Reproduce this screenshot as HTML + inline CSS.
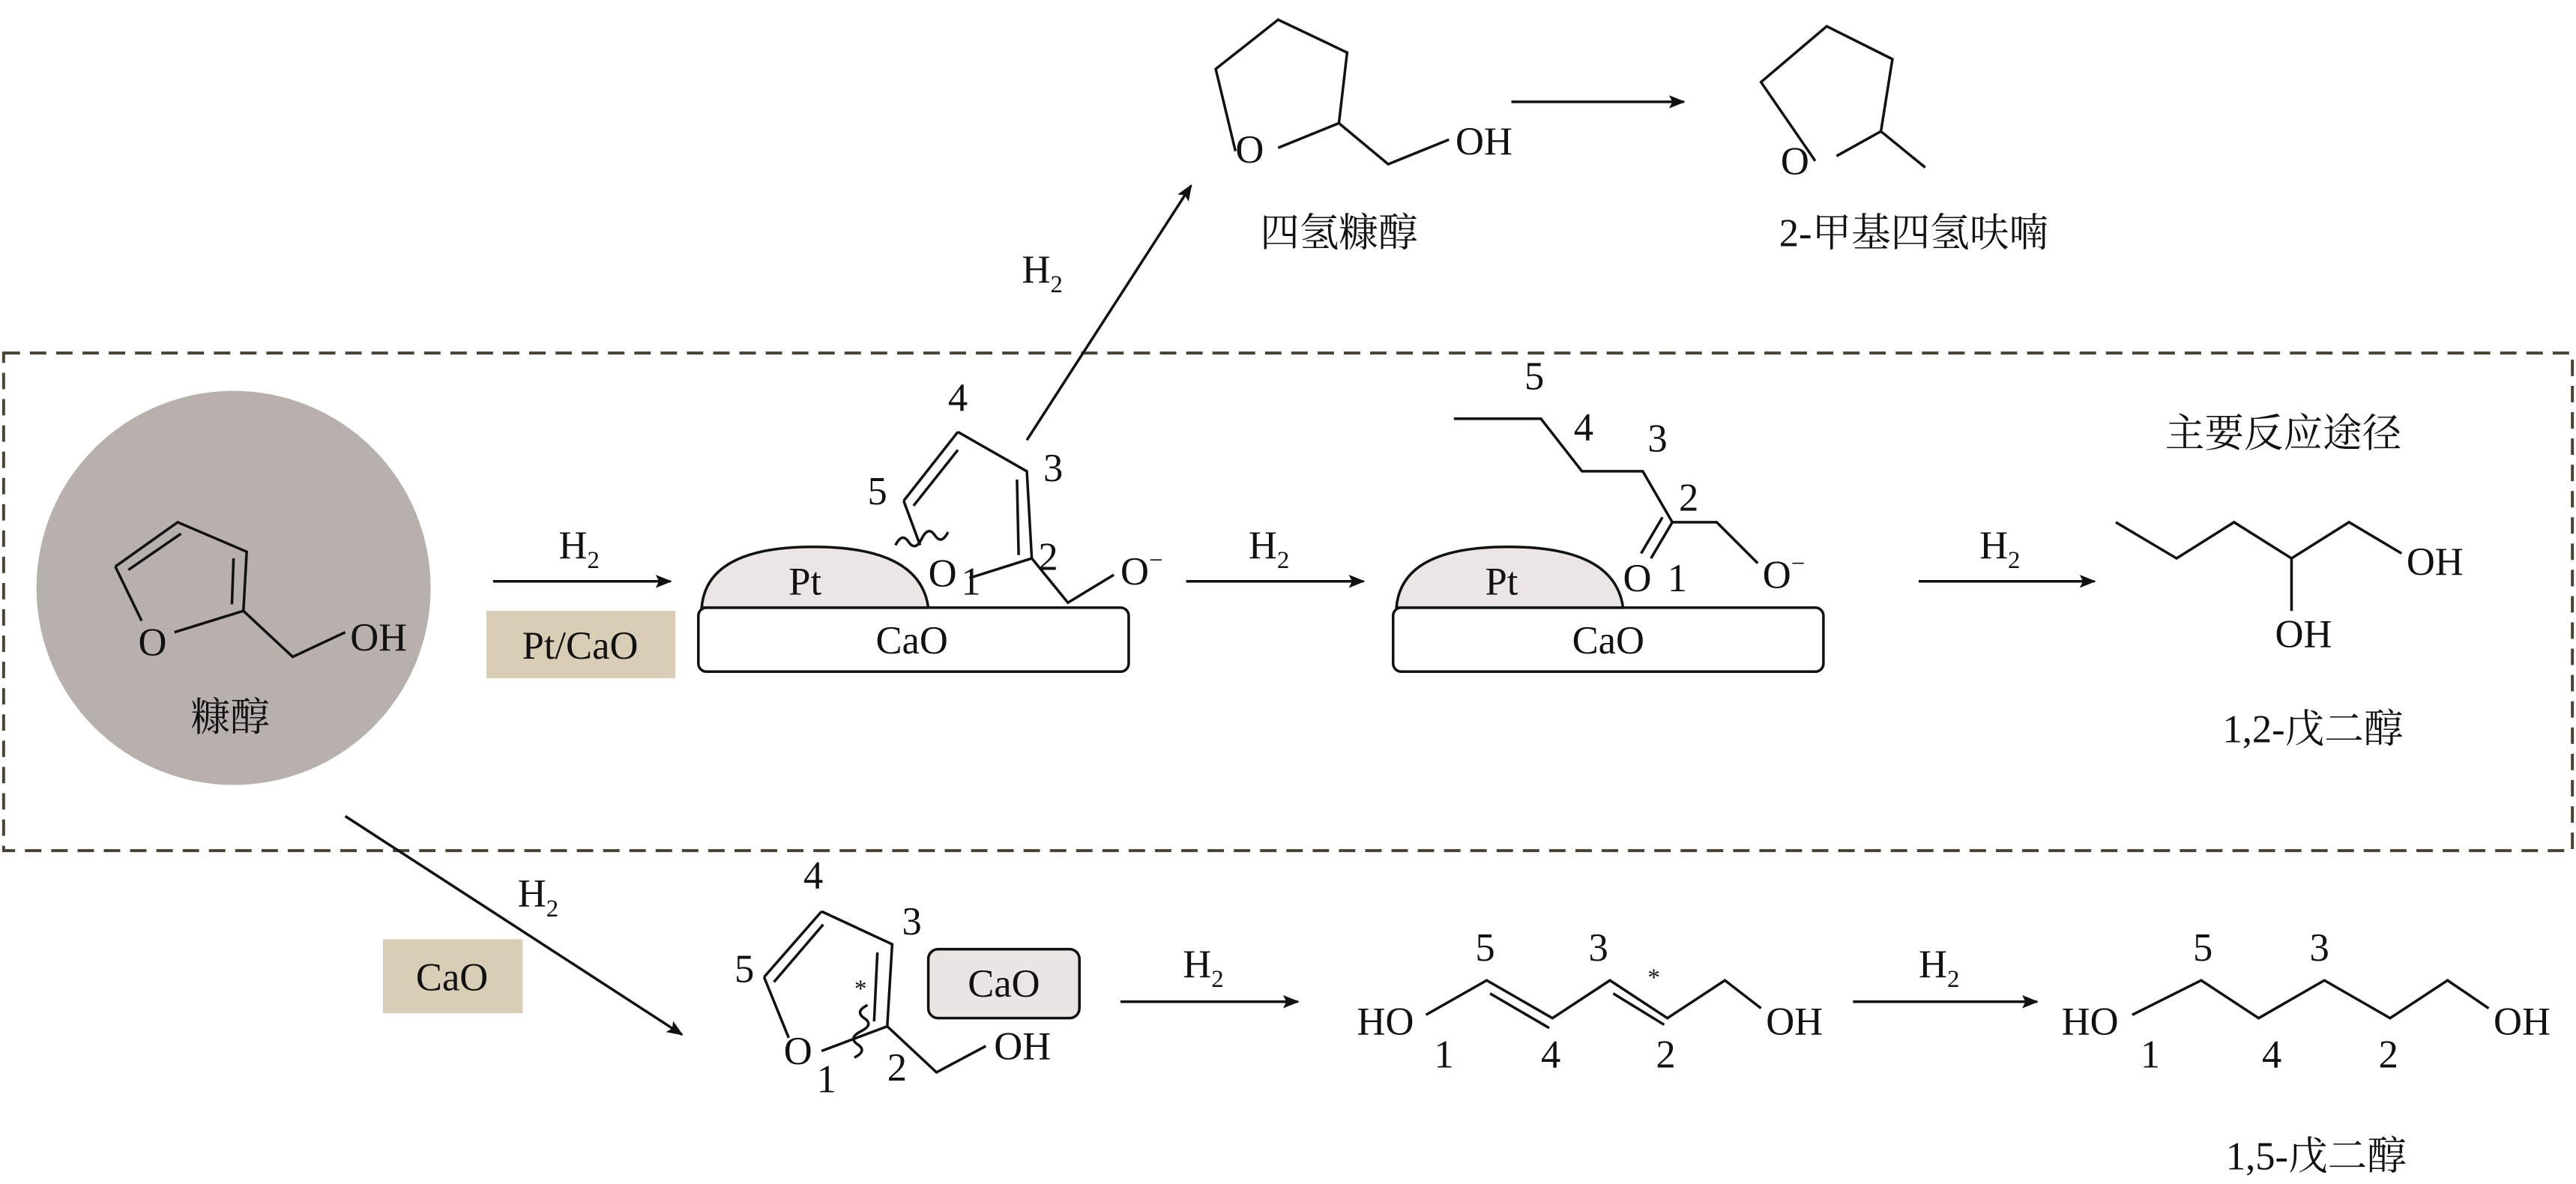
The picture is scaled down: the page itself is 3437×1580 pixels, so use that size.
<!DOCTYPE html>
<html><head><meta charset="utf-8"><style>
html,body{margin:0;padding:0;background:#fff}
svg{display:block}
text{font-family:"Liberation Serif","Noto Serif CJK SC",serif;font-size:24px;fill:#111}
.c{font-family:"Liberation Serif","Noto Serif CJK SC",serif;font-size:24px}
.s{font-size:15px}
</style></head><body>
<svg width="3437" height="1580" viewBox="0 0 1568 721" xmlns="http://www.w3.org/2000/svg">
<defs><marker id="a" markerWidth="10" markerHeight="8" refX="9" refY="4" orient="auto" markerUnits="userSpaceOnUse"><path d="M0,0 L10,4 L0,8 L2,4 z" fill="#111"/></marker></defs>
<g stroke="#111" stroke-width="1.6" fill="none">
<rect x="2" y="215" width="1564" height="303" stroke="#4a4232" stroke-width="1.8" stroke-dasharray="10,6"/>
</g>
<circle cx="142" cy="358" r="120" fill="#b8b0ad"/>
<g stroke="#111" stroke-width="1.6" fill="none">
<path d="M70,345 L108,318 L150,336 L148,372 L106,385 M148,372 L178,400 L210,385"/>
<path d="M78,347 L110,325 M142,340 L141,368"/>
<path d="M70,345 L86,378"/>
<path d="M300,354 L408,354" marker-end="url(#a)"/>
<path d="M722,354 L830,354" marker-end="url(#a)"/>
<path d="M1168,354 L1275,354" marker-end="url(#a)"/>
<path d="M625,268 L725,113" marker-end="url(#a)"/>
<path d="M920,62 L1025,62" marker-end="url(#a)"/>
<path d="M210,497 L415,630" marker-end="url(#a)"/>
<path d="M682,610 L790,610" marker-end="url(#a)"/>
<path d="M1128,610 L1240,610" marker-end="url(#a)"/>
</g>
<rect x="296" y="372" width="115" height="41" fill="#d8cdb5"/>
<text x="353" y="401" text-anchor="middle">Pt/CaO</text>
<text x="340" y="340">H<tspan class="s" dy="6">2</tspan></text>
<text x="760" y="340">H<tspan class="s" dy="6">2</tspan></text>
<text x="1205" y="340">H<tspan class="s" dy="6">2</tspan></text>
<text x="622" y="172">H<tspan class="s" dy="6">2</tspan></text>
<text x="315" y="552">H<tspan class="s" dy="6">2</tspan></text>
<text x="720" y="595">H<tspan class="s" dy="6">2</tspan></text>
<text x="1168" y="595">H<tspan class="s" dy="6">2</tspan></text>
<text x="84" y="399">O</text><text x="213" y="396">OH</text>
<text x="140" y="445" text-anchor="middle" class="c">糠醇</text>
<g stroke="#111" stroke-width="1.6">
<rect x="425" y="370" width="262" height="39" rx="5" fill="#fff"/>
<path d="M427,370 Q430,333 495,333 Q560,333 565,370 Z" fill="#ebe6e3"/>
<rect x="848" y="370" width="262" height="39" rx="5" fill="#fff"/>
<path d="M850,370 Q853,333 918,333 Q983,333 988,370 Z" fill="#ebe6e3"/>
</g>
<text x="480" y="362">Pt</text><text x="555" y="398" text-anchor="middle">CaO</text>
<text x="904" y="362">Pt</text><text x="979" y="398" text-anchor="middle">CaO</text>
<g stroke="#111" stroke-width="1.6" fill="none">
<path d="M583,263 L625,287 L628,340 L590,352 M550,305 L583,263 M556,308 L583,274 M550,305 L560,332 M619,292 L620,338 M628,340 L650,367 L678,350"/>
<path d="M545,332 q4,-8 8,-2 q4,6 8,-2 q4,-8 8,-2 q4,6 8,-2"/>
</g>
<text x="577" y="250">4</text><text x="528" y="307">5</text><text x="635" y="293">3</text><text x="632" y="347">2</text>
<text x="565" y="357">O</text><text x="585" y="362">1</text>
<text x="682" y="356">O<tspan class="s" dy="-10">−</tspan></text>
<g stroke="#111" stroke-width="1.6" fill="none">
<path d="M752,92 L740,42 L778,12 L820,32 L815,75 L778,90 M815,75 L845,100 L882,85"/>
<path d="M1105,98 L1072,50 L1112,16 L1152,36 L1145,80 L1118,95 M1145,80 L1172,102"/>
</g>
<text x="752" y="99">O</text><text x="886" y="94">OH</text>
<text x="815" y="150" text-anchor="middle" class="c">四氢糠醇</text>
<text x="1084" y="106">O</text>
<text x="1165" y="150" text-anchor="middle" class="c">2-甲基四氢呋喃</text>
<g stroke="#111" stroke-width="1.6" fill="none">
<path d="M885,255 L938,255 L963,287 L1000,287 L1018,318 L1045,318 L1070,343 M1018,318 L1005,340 M1012,315 L999,337"/>
</g>
<text x="928" y="237">5</text><text x="958" y="268">4</text><text x="1003" y="275">3</text><text x="1022" y="311">2</text>
<text x="988" y="360">O</text><text x="1015" y="360">1</text>
<text x="1073" y="358">O<tspan class="s" dy="-10">−</tspan></text>
<text x="1390" y="272" text-anchor="middle" class="c">主要反应途径</text>
<g stroke="#111" stroke-width="1.6" fill="none">
<path d="M1288,318 L1325,340 L1360,318 L1395,340 L1430,318 L1462,337 M1395,340 L1395,372"/>
</g>
<text x="1465" y="350">OH</text><text x="1385" y="394">OH</text>
<text x="1408" y="452" text-anchor="middle" class="c">1,2-戊二醇</text>
<rect x="233" y="572" width="85" height="45" fill="#d8cdb5"/>
<text x="275" y="603" text-anchor="middle">CaO</text>
<g stroke="#111" stroke-width="1.6" fill="none">
<path d="M500,555 L543,575 L540,625 L500,640 M465,595 L500,555 M471,598 L501,563 M465,595 L480,632 M534,580 L532,622 M540,625 L570,653 L600,637"/>
<path d="M528,612 q-8,4 -2,8 q6,4 -2,8 q-8,4 -2,8 q6,4 -2,8"/>
</g>
<rect x="565" y="578" width="92" height="42" rx="6" fill="#e9e5e2" stroke="#111" stroke-width="1.6"/>
<text x="611" y="607" text-anchor="middle">CaO</text>
<text x="489" y="541">4</text><text x="549" y="569">3</text><text x="447" y="598">5</text><text x="520" y="607" class="s">*</text>
<text x="477" y="648">O</text><text x="497" y="665">1</text><text x="540" y="658">2</text><text x="605" y="645">OH</text>
<g stroke="#111" stroke-width="1.6" fill="none">
<path d="M868,618 L905,597 L945,620 L980,597 L1015,620 L1050,597 L1072,614 M907,605 L943,626 M982,605 L1013,624"/>
<path d="M1298,618 L1340,597 L1375,620 L1415,597 L1455,620 L1490,597 L1515,614"/>
</g>
<text x="826" y="630">HO</text><text x="873" y="650">1</text><text x="898" y="585">5</text><text x="938" y="650">4</text><text x="967" y="585">3</text><text x="1003" y="600" class="s">*</text><text x="1008" y="650">2</text><text x="1075" y="630">OH</text>
<text x="1255" y="630">HO</text><text x="1303" y="650">1</text><text x="1335" y="585">5</text><text x="1377" y="650">4</text><text x="1406" y="585">3</text><text x="1448" y="650">2</text><text x="1518" y="630">OH</text>
<text x="1410" y="712" text-anchor="middle" class="c">1,5-戊二醇</text>
</svg>
</body></html>
